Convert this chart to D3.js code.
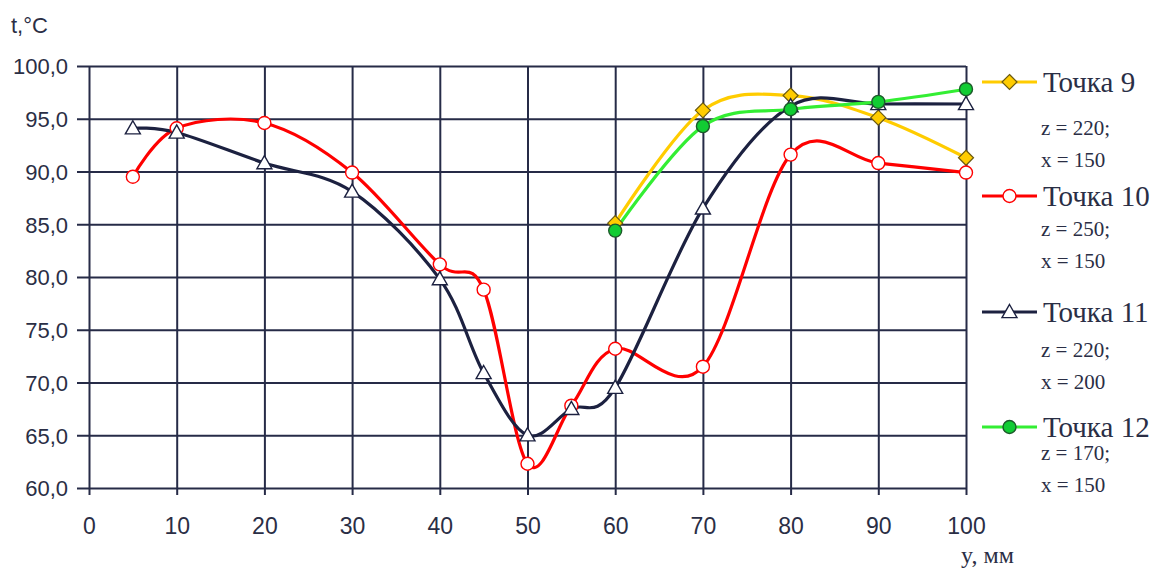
<!DOCTYPE html>
<html>
<head>
<meta charset="utf-8">
<script src="https://cdn.jsdelivr.net/npm/d3@7"></script>
<style>
  html, body { margin: 0; padding: 0; background: #ffffff; }
  svg { display: block; }
</style>
</head>
<body>
<svg id="chart" width="1157" height="570"></svg>
<script>
// ---- data ----
const xTicks = [0, 10, 20, 30, 40, 50, 60, 70, 80, 90, 100];
const yTicks = [60, 65, 70, 75, 80, 85, 90, 95, 100];
const yLong = [5, 10, 20, 30, 40, 45, 50, 55, 60, 70, 80, 90, 100];
const yShort = [60, 70, 80, 90, 100];
const t9  = [85.1, 95.8, 97.2, 95.1, 91.3];
const t10 = [89.5, 94.1, 94.6, 89.9, 81.2, 78.8, 62.3, 67.8, 73.2, 71.5, 91.6, 90.8, 89.9];
const t11 = [94.1, 93.7, 90.8, 88.1, 79.8, 70.9, 65.0, 67.5, 69.5, 86.5, 96.2, 96.4, 96.4];
const t12 = [84.4, 94.3, 95.9, 96.6, 97.8];
const seriesNames = ["Точка 9", "Точка 10", "Точка 11", "Точка 12"];
const seriesZ = ["z = 220;", "z = 250;", "z = 220;", "z = 170;"];
const seriesX = ["x = 150", "x = 150", "x = 200", "x = 150"];
const yAxisTitle = "t,°C";
const xAxisTitle = "y, мм";

// ---- styling ----
const ink = "#2a2e45";
const grid = "#262b47";
const styles = [
  { line: "#ffcc00", marker: "diamond", fill: "#ffcc00", stroke: "#6b5a10" },
  { line: "#ff0000", marker: "circle", fill: "#ffffff", stroke: "#ff0000" },
  { line: "#1c2140", marker: "triangle", fill: "#ffffff", stroke: "#1c2140" },
  { line: "#33ee33", marker: "dot", fill: "#11cc33", stroke: "#1d5a2a" }
];
const series = [
  { xs: yShort, ys: t9 },
  { xs: yLong, ys: t10 },
  { xs: yLong, ys: t11 },
  { xs: yShort, ys: t12 }
];

const svg = d3.select("#chart");
const L = 89, R = 966, T = 66, B = 488;
const x = d3.scaleLinear().domain([0, 100]).range([L, R]);
const y = d3.scaleLinear().domain([60, 100]).range([B, T]);

// horizontal grid + y axis
const yAxis = d3.axisLeft(y).tickValues(yTicks).tickSize(-(R - L))
  .tickFormat(d => d3.format(".1f")(d).replace(".", ","));
const gy = svg.append("g").attr("transform", `translate(${L},0)`).call(yAxis);
gy.select(".domain").remove();
gy.selectAll(".tick line").attr("x1", -12).attr("stroke", grid).attr("stroke-width", 2);
gy.selectAll(".tick text").attr("x", -21).attr("dy", "0.36em")
  .attr("fill", ink).style("font-family", "'Liberation Sans', Arial, sans-serif").style("font-size", "22px");

// vertical grid + x axis
const xAxis = d3.axisBottom(x).tickValues(xTicks).tickSize(-(B - T)).tickFormat(d3.format("d"));
const gx = svg.append("g").attr("transform", `translate(0,${B})`).call(xAxis);
gx.select(".domain").remove();
gx.selectAll(".tick line").attr("y1", 7).attr("stroke", grid).attr("stroke-width", 2);
gx.selectAll(".tick text").attr("y", 46).attr("dy", null)
  .attr("fill", ink).style("font-family", "'Liberation Sans', Arial, sans-serif").style("font-size", "23px");

// axis titles
svg.append("text").attr("x", 11).attr("y", 33).text(yAxisTitle)
  .attr("fill", ink).style("font-family", "'Liberation Sans', Arial, sans-serif").style("font-size", "22px");
svg.append("text").attr("x", 961).attr("y", 563).text(xAxisTitle)
  .attr("fill", ink).style("font-family", "'Liberation Serif', 'Times New Roman', serif").style("font-size", "24px");

// lines
const line = d3.line().x(d => x(d[0])).y(d => y(d[1])).curve(d3.curveCardinal.tension(0));
series.forEach((s, i) => {
  const pts = s.xs.map((v, k) => [v, s.ys[k]]);
  svg.append("path").datum(pts).attr("d", line)
    .attr("fill", "none").attr("stroke", styles[i].line).attr("stroke-width", 3.2)
    .attr("stroke-linejoin", "round");
});

function drawMarker(g, type, cx, cy, st) {
  if (type === "circle" || type === "dot") {
    g.append("circle").attr("cx", cx).attr("cy", cy).attr("r", 6.5)
      .attr("fill", st.fill).attr("stroke", st.stroke).attr("stroke-width", 1.4);
  } else if (type === "diamond") {
    const r = 7.5;
    g.append("path").attr("d", `M${cx},${cy - r}L${cx + r},${cy}L${cx},${cy + r}L${cx - r},${cy}Z`)
      .attr("fill", st.fill).attr("stroke", st.stroke).attr("stroke-width", 1.2);
  } else if (type === "triangle") {
    const r = 7.5;
    g.append("path").attr("d", `M${cx},${cy - r}L${cx + r},${cy + r * 0.75}L${cx - r},${cy + r * 0.75}Z`)
      .attr("fill", st.fill).attr("stroke", st.stroke).attr("stroke-width", 1.4);
  }
}

// markers
series.forEach((s, i) => {
  const g = svg.append("g");
  s.xs.forEach((v, k) => drawMarker(g, styles[i].marker, x(v), y(s.ys[k]), styles[i]));
});

// legend
const legLineY = [82, 196, 312, 427];
const legZY = [135, 236, 357, 460];
const legXY = [167, 268, 389, 492];
seriesNames.forEach((name, i) => {
  const g = svg.append("g");
  g.append("line").attr("x1", 982).attr("x2", 1037).attr("y1", legLineY[i]).attr("y2", legLineY[i])
    .attr("stroke", styles[i].line).attr("stroke-width", 3.2);
  drawMarker(g, styles[i].marker, 1009.5, legLineY[i], styles[i]);
  g.append("text").attr("x", 1043).attr("y", legLineY[i] + 10).text(name)
    .attr("fill", ink).style("font-family", "'Liberation Serif', 'Times New Roman', serif").style("font-size", "29px");
  g.append("text").attr("x", 1041).attr("y", legZY[i]).text(seriesZ[i])
    .attr("fill", ink).style("font-family", "'Liberation Serif', 'Times New Roman', serif").style("font-size", "21px");
  g.append("text").attr("x", 1041).attr("y", legXY[i]).text(seriesX[i])
    .attr("fill", ink).style("font-family", "'Liberation Serif', 'Times New Roman', serif").style("font-size", "21px");
});
</script>
</body>
</html>
